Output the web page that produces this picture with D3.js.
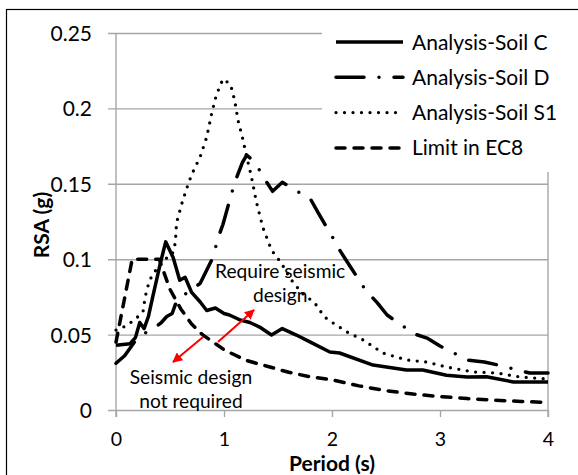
<!DOCTYPE html>
<html>
<head>
<meta charset="utf-8">
<script src="https://cdn.jsdelivr.net/npm/d3@7"></script>
<style>
  html, body { margin: 0; padding: 0; background: #fff; }
  svg { display: block; font-family: Lato, "Open Sans", sans-serif; }
</style>
</head>
<body>
<svg id="chart" width="578" height="475"></svg>
<script>
// ---------- data ----------
const periodC = [0, 0.13, 0.18, 0.22, 0.26, 0.30, 0.34, 0.41, 0.46, 0.53, 0.59, 0.64, 0.70, 0.78, 0.84, 0.92, 1.0, 1.05, 1.15, 1.24, 1.33, 1.44, 1.54, 1.67, 1.80, 1.98, 2.07, 2.38, 2.69, 2.84, 3.06, 3.25, 3.43, 3.68, 4.0];
const rsaC    = [0.043, 0.044, 0.048, 0.058, 0.054, 0.062, 0.075, 0.097, 0.1115, 0.101, 0.086, 0.088, 0.078, 0.0716, 0.066, 0.0676, 0.064, 0.063, 0.0597, 0.058, 0.055, 0.0497, 0.054, 0.0497, 0.045, 0.0385, 0.0378, 0.0298, 0.0265, 0.0265, 0.023, 0.0219, 0.022, 0.0186, 0.0186];

const periodD = [0, 0.08, 0.17, 0.24, 0.33, 0.42, 0.47, 0.52, 0.56, 0.66, 0.78, 0.90, 0.94, 0.99, 1.06, 1.10, 1.17, 1.21, 1.26, 1.33, 1.40, 1.45, 1.54, 1.68, 1.80, 1.87, 2.01, 2.08, 2.17, 2.31, 2.42, 2.51, 2.69, 2.74, 2.88, 3.0, 3.26, 3.41, 3.54, 3.83, 4.0];
const rsaD    = [0.031, 0.036, 0.045, 0.050, 0.053, 0.058, 0.062, 0.064, 0.072, 0.078, 0.084, 0.1015, 0.113, 0.123, 0.141, 0.151, 0.164, 0.169, 0.166, 0.159, 0.1505, 0.145, 0.151, 0.145, 0.140, 0.131, 0.114, 0.105, 0.095, 0.0796, 0.071, 0.063, 0.054, 0.051, 0.0477, 0.0424, 0.033, 0.0318, 0.0298, 0.0245, 0.0245];

const periodS1 = [0, 0.10, 0.19, 0.25, 0.27, 0.31, 0.38, 0.44, 0.52, 0.55, 0.56, 0.61, 0.65, 0.70, 0.78, 0.84, 0.89, 0.93, 0.99, 1.06, 1.10, 1.13, 1.17, 1.20, 1.25, 1.30, 1.36, 1.44, 1.53, 1.61, 1.72, 1.84, 1.93, 2.01, 2.14, 2.29, 2.47, 2.69, 2.88, 3.06, 3.31, 3.53, 3.74, 4.0];
const rsaS1    = [0.053, 0.056, 0.061, 0.065, 0.075, 0.086, 0.094, 0.0995, 0.103, 0.111, 0.124, 0.137, 0.146, 0.156, 0.168, 0.181, 0.198, 0.209, 0.2195, 0.216, 0.205, 0.192, 0.181, 0.171, 0.156, 0.138, 0.121, 0.106, 0.0975, 0.0875, 0.0776, 0.071, 0.0617, 0.0577, 0.0517, 0.0464, 0.0378, 0.0332, 0.0318, 0.0285, 0.0252, 0.0245, 0.0219, 0.0205];

const periodEC8 = [0, 0.15, 0.40, 0.50, 0.60, 0.70, 0.80, 1.0, 1.2, 1.4, 1.6, 1.8, 2.0, 2.25, 2.5, 2.75, 3.0, 3.25, 3.5, 3.75, 4.0];
const rsaEC8    = [0.045, 0.100, 0.100, 0.080, 0.067, 0.057, 0.050, 0.040, 0.033, 0.029, 0.025, 0.022, 0.020, 0.016, 0.0128, 0.0106, 0.0089, 0.0076, 0.0065, 0.0057, 0.0050];

const seriesNames = ["Analysis-Soil C", "Analysis-Soil D", "Analysis-Soil S1", "Limit in EC8"];
const xTicks = [0, 1, 2, 3, 4];
const yTicks = [0, 0.05, 0.1, 0.15, 0.2, 0.25];
const yTickLabels = ["0", "0.05", "0.1", "0.15", "0.2", "0.25"];
const xLabel = "Period (s)";
const yLabel = "RSA (g)";

// annotation anchors in data units
const noteUpper = ["Require seismic", "design"];
const noteLower = ["Seismic design", "not required"];
const arrowUp   = [[0.944, 0.0451], [1.278, 0.0663]];
const arrowDown = [[0.806, 0.0484], [0.528, 0.0318]];

// ---------- layout ----------
const svg = d3.select("#chart");
const pLeft = 116, pRight = 548, pTop = 33, pBottom = 410;
const x = d3.scaleLinear().domain([0, 4]).range([pLeft, pRight]);
const y = d3.scaleLinear().domain([0, 0.25]).range([pBottom, pTop]);
const grid = "#a6a6a6";

// outer chart border
svg.append("rect").attr("x", 6.5).attr("y", 9.5).attr("width", 600).attr("height", 500)
  .attr("fill", "#fff").attr("stroke", "#000").attr("stroke-width", 1.2);

// horizontal gridlines + y ticks
const yAxis = d3.axisLeft(y).tickValues(yTicks).tickSize(-(pRight - pLeft)).tickSizeOuter(0)
  .tickFormat((d, i) => yTickLabels[i]).tickPadding(16);
const gy = svg.append("g").attr("transform", `translate(${pLeft},0)`).call(yAxis);
gy.select(".domain").remove();
gy.selectAll(".tick line").attr("stroke", grid).attr("stroke-width", 1.4).attr("x1", -8);
gy.selectAll(".tick text").attr("font-size", 21).attr("fill", "#000")
  .attr("font-family", "Lato, sans-serif").attr("x", -24).attr("dy", "0.36em");

// x axis ticks
const xAxis = d3.axisBottom(x).tickValues(xTicks).tickSize(7).tickSizeOuter(0).tickFormat(d3.format("d"));
const gx = svg.append("g").attr("transform", `translate(0,${pBottom})`).call(xAxis);
gx.select(".domain").remove();
gx.selectAll(".tick line").attr("stroke", grid).attr("stroke-width", 1.4);
gx.selectAll(".tick text").attr("font-size", 19.5).attr("fill", "#000")
  .attr("font-family", "Lato, sans-serif").attr("y", 29).attr("dy", "0.36em");

// plot area border (left & right)
svg.append("line").attr("x1", pLeft).attr("x2", pLeft).attr("y1", pTop).attr("y2", pBottom + 7)
  .attr("stroke", grid).attr("stroke-width", 1.4);
svg.append("line").attr("x1", pRight).attr("x2", pRight).attr("y1", pTop).attr("y2", pBottom + 7)
  .attr("stroke", grid).attr("stroke-width", 1.4);

// ---------- series ----------
const line = d3.line().x(d => x(d[0])).y(d => y(d[1]));
const styles = [
  { dash: null },
  { dash: "28,15,0,15" },
  { dash: "0,8.5" },
  { dash: "9,9" }
];
const series = [
  d3.zip(periodC, rsaC),
  d3.zip(periodD, rsaD),
  d3.zip(periodS1, rsaS1),
  d3.zip(periodEC8, rsaEC8)
];
const order = [3, 1, 2, 0];
order.forEach(i => {
  svg.append("path").datum(series[i]).attr("d", line)
    .attr("fill", "none").attr("stroke", "#000")
    .attr("stroke-width", i === 2 ? 3.3 : 3.5)
    .attr("stroke-linecap", i === 0 ? "butt" : "round")
    .attr("stroke-linejoin", "round")
    .attr("stroke-dasharray", styles[i].dash);
});

// ---------- legend ----------
const lg = svg.append("g");
lg.append("rect").attr("x", 322).attr("y", 20).attr("width", 256).attr("height", 152).attr("fill", "#fff");
seriesNames.forEach((name, i) => {
  const ly = 42 + i * 35.3;
  lg.append("line").attr("x1", 336).attr("x2", 403).attr("y1", ly).attr("y2", ly)
    .attr("stroke", "#000").attr("stroke-width", i === 2 ? 3.3 : 3.5)
    .attr("stroke-linecap", i === 0 ? "butt" : "round")
    .attr("stroke-dasharray", styles[i].dash);
  lg.append("text").attr("x", 412).attr("y", ly + 7.5).attr("font-size", 21)
    .attr("fill", "#000").text(name);
});

// ---------- axis titles ----------
svg.append("text").attr("x", x(2)).attr("y", 471).attr("text-anchor", "middle")
  .attr("font-size", 21).attr("font-weight", "bold").text(xLabel);
svg.append("text").attr("transform", "translate(49,225) rotate(-90)").attr("text-anchor", "middle")
  .attr("font-size", 21).attr("font-weight", "bold").text(yLabel);

// ---------- annotations ----------
const defs = svg.append("defs");
defs.append("marker").attr("id", "ah").attr("viewBox", "0 0 10 10").attr("refX", 9).attr("refY", 5)
  .attr("markerWidth", 5).attr("markerHeight", 5).attr("orient", "auto")
  .append("path").attr("d", "M0,0 L10,5 L0,10 Z").attr("fill", "#ff0000");
[arrowUp, arrowDown].forEach(a => {
  svg.append("line").attr("x1", x(a[0][0])).attr("y1", y(a[0][1]))
    .attr("x2", x(a[1][0])).attr("y2", y(a[1][1]))
    .attr("stroke", "#ff0000").attr("stroke-width", 2).attr("marker-end", "url(#ah)");
});
const noteFont = 19.2;
svg.append("text").attr("x", x(1.52)).attr("y", y(0.0875)).attr("text-anchor", "middle")
  .attr("font-size", noteFont).text(noteUpper[0]);
svg.append("text").attr("x", x(1.52)).attr("y", y(0.0716)).attr("text-anchor", "middle")
  .attr("font-size", noteFont).text(noteUpper[1]);
svg.append("text").attr("x", x(0.694)).attr("y", y(0.0172)).attr("text-anchor", "middle")
  .attr("font-size", noteFont).text(noteLower[0]);
svg.append("text").attr("x", x(0.694)).attr("y", y(0.0013)).attr("text-anchor", "middle")
  .attr("font-size", noteFont).text(noteLower[1]);
</script>
</body>
</html>
